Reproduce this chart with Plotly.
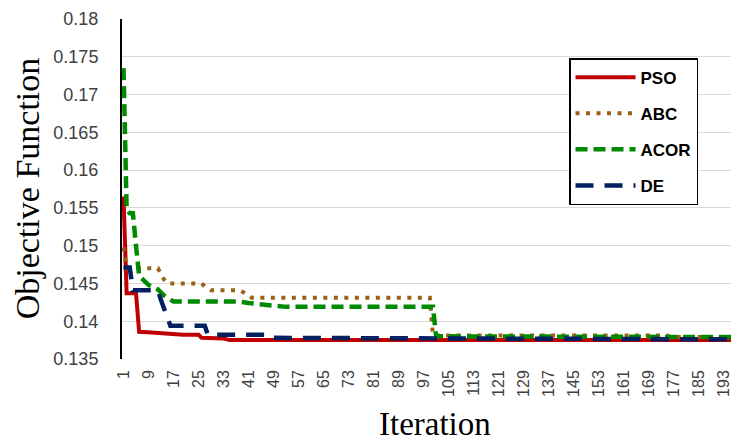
import plotly.graph_objects as go

# Iteration at which a value was read, and the objective value there
pso_iter = [1, 2, 5, 6, 10, 20, 25, 26, 33, 35, 200]
pso_val = [0.1565, 0.1437, 0.1437, 0.1386, 0.1385, 0.1382, 0.1382, 0.1378, 0.1377, 0.1375, 0.1375]

abc_iter = [1, 2, 12, 13, 14, 15, 26, 27, 29, 38, 40, 42, 99, 100, 175, 176, 200]
abc_val = [0.1498, 0.1470, 0.1470, 0.1462, 0.1455, 0.1450, 0.1450, 0.1446, 0.1441, 0.1441,
           0.1437, 0.1431, 0.1431, 0.1381, 0.1381, 0.1379, 0.1379]

acor_iter = [1, 2, 3, 4, 5, 6, 9, 12, 14, 17, 38, 41, 53, 100, 101, 170, 176, 200]
acor_val = [0.1735, 0.1548, 0.1543, 0.1543, 0.1500, 0.1460, 0.1448, 0.1442, 0.1434, 0.1426,
            0.1426, 0.1424, 0.1419, 0.1419, 0.1380, 0.1380, 0.1379, 0.1379]

de_iter = [1, 3, 4, 12, 13, 16, 27, 28, 46, 47, 120, 200]
de_val = [0.1471, 0.1471, 0.1441, 0.1441, 0.1428, 0.1394, 0.1394, 0.1382, 0.1382, 0.1378,
          0.1377, 0.1376]

x_ticks = list(range(1, 200, 8))
y_ticks = [0.135, 0.14, 0.145, 0.15, 0.155, 0.16, 0.165, 0.17, 0.175, 0.18]
y_tick_text = ["0.135", "0.14", "0.145", "0.15", "0.155", "0.16", "0.165", "0.17", "0.175", "0.18"]

series = [
    ("PSO", pso_iter, pso_val, "#c00000", "solid", 4),
    ("ABC", abc_iter, abc_val, "#9a6114", "4px,6.5px", 4),
    ("ACOR", acor_iter, acor_val, "#008a00", "12px,6px", 4.5),
    ("DE", de_iter, de_val, "#002060", "18px,11px", 4.5),
]

fig = go.Figure()
for name, xs, ys, color, dash, w in series:
    fig.add_trace(go.Scatter(
        x=xs, y=ys, mode="lines", name=name, legendgroup=name,
        line=dict(color=color, dash=dash, width=w),
    ))

# page body has an 8px default margin: figure is 731x433 placed at (8, 8)
fig.update_layout(
    width=731, height=433,
    margin=dict(l=114, r=0, t=11, b=82, autoexpand=False),
    paper_bgcolor="white", plot_bgcolor="white",
    showlegend=True,
    legend=dict(
        x=0.7245, y=0.885, xanchor="left", yanchor="top",
        bordercolor="black", borderwidth=1.5, bgcolor="white",
        font=dict(family="Liberation Sans", size=17, color="black", weight="bold"),
        tracegroupgap=11, itemwidth=60,
    ),
    xaxis=dict(
        range=[0.52, 197.9], tickmode="array", tickvals=x_ticks,
        ticktext=[str(t) for t in x_ticks], tickangle=-90,
        showgrid=False, showline=False, zeroline=False, ticks="",
        tickfont=dict(family="Liberation Sans", size=16, color="#404040"),
        ticklabelstandoff=7, automargin=False,
    ),
    yaxis=dict(
        range=[0.135, 0.18], tickmode="array", tickvals=y_ticks, ticktext=y_tick_text,
        showgrid=True, gridcolor="#d9d9d9", gridwidth=1.3,
        showline=True, linecolor="black", linewidth=2, zeroline=False, ticks="",
        tickfont=dict(family="Liberation Sans", size=18, color="#404040"),
        ticklabelstandoff=18, automargin=False,
    ),
    annotations=[
        dict(text="Objective Function", xref="paper", yref="paper",
             x=-0.153, y=0.501, xanchor="center", yanchor="middle", textangle=-90,
             showarrow=False, font=dict(family="Liberation Serif", size=34, color="black")),
        dict(text="Iteration", xref="paper", yref="paper",
             x=0.507, y=-0.192, xanchor="center", yanchor="middle",
             showarrow=False, font=dict(family="Liberation Serif", size=33, color="black")),
    ],
)

fig.write_html("out.html")
